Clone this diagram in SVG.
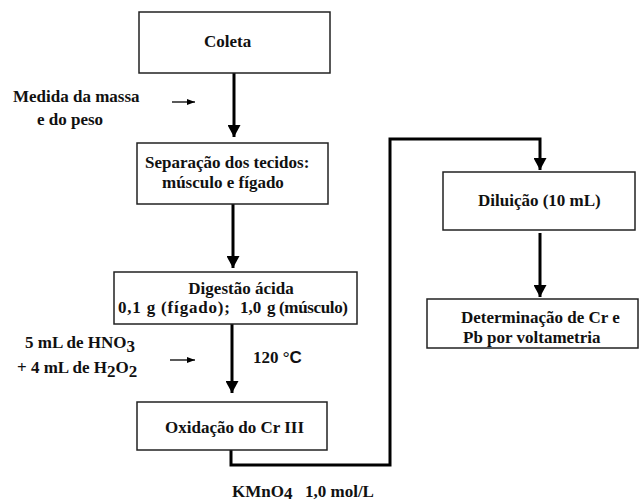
<svg xmlns="http://www.w3.org/2000/svg" width="640" height="502" viewBox="0 0 640 502">
<defs>
<style>
.box{fill:#fff;stroke:#222;stroke-width:1.5}
text{font-family:'Liberation Serif','Times New Roman',Tinos,'DejaVu Serif',serif;font-weight:bold;font-size:17px;fill:#111}
.s{font-family:'Liberation Sans',Arial,sans-serif}
.flow{fill:none;stroke:#000;stroke-width:3}
.thin{fill:none;stroke:#000;stroke-width:1.3}
</style>
<marker id="ah" markerUnits="userSpaceOnUse" viewBox="0 0 12 13" refX="12" refY="6.5" markerWidth="12" markerHeight="13" orient="auto">
<path d="M0,0 L12,6.5 L0,13 Z" fill="#000"/>
</marker>
<marker id="sh" markerUnits="userSpaceOnUse" viewBox="0 0 8 6" refX="8" refY="3" markerWidth="8" markerHeight="6" orient="auto">
<path d="M0,0 L8,3 L0,6 Z" fill="#000"/>
</marker>
</defs>
<rect width="640" height="502" fill="#fff"/>

<g id="connectors">
<line class="flow" x1="234" y1="73" x2="234" y2="137" marker-end="url(#ah)"/>
<line class="flow" x1="233" y1="204" x2="233" y2="268" marker-end="url(#ah)"/>
<line class="flow" x1="232" y1="324" x2="232" y2="393" marker-end="url(#ah)"/>
<polyline class="flow" points="231,450 231,465 390,465 390,139 540,139 540,170" marker-end="url(#ah)"/>
<line class="flow" x1="540" y1="233" x2="540" y2="297" marker-end="url(#ah)"/>
<line class="thin" x1="172" y1="102" x2="195" y2="102" marker-end="url(#sh)"/>
<line class="thin" x1="170" y1="360" x2="195" y2="360" marker-end="url(#sh)"/>
</g>

<g id="coleta">
<rect class="box" x="139" y="12" width="191" height="61"/>
<text x="204" y="47">Coleta</text>
</g>

<g id="medida">
<text x="13" y="102">Medida da massa</text>
<text x="37" y="125">e do peso</text>
</g>

<g id="separacao">
<rect class="box" x="137" y="143" width="191" height="61"/>
<text x="145" y="168">Separação dos tecidos:</text>
<text x="162" y="188">músculo e fígado</text>
</g>

<g id="digestao">
<rect class="box" x="114" y="272" width="243" height="52"/>
<text x="241" y="294" text-anchor="middle">Digestão ácida</text>
<text x="118" y="313"><tspan textLength="112" lengthAdjust="spacing">0,1 g (fígado);</tspan><tspan x="240">1,0</tspan><tspan x="267" textLength="81" lengthAdjust="spacing">g (músculo)</tspan></text>
</g>

<g id="reagentes">
<text x="25" y="348">5 mL de HNO<tspan dy="4">3</tspan></text>
<text x="17" y="373">+ 4 mL de H<tspan dy="4">2</tspan><tspan dy="-4">O</tspan><tspan dy="4">2</tspan></text>
</g>

<g id="temperatura">
<text x="253" y="363">120 °<tspan class="s">C</tspan></text>
</g>

<g id="oxidacao">
<rect class="box" x="137" y="402" width="190" height="48"/>
<text x="165" y="433">Oxidação do Cr III</text>
</g>

<g id="kmno4">
<text x="232" y="497">KMnO<tspan dy="2">4</tspan></text>
<text x="305" y="497">1,0 mol/L</text>
</g>

<g id="diluicao">
<rect class="box" x="443" y="172" width="192" height="58"/>
<text x="478" y="206">Diluição (10 mL)</text>
</g>

<g id="determinacao">
<rect class="box" x="427" y="299" width="211" height="49"/>
<text x="461" y="323">Determinação de Cr e</text>
<text x="463" y="343">Pb por voltametria</text>
</g>
</svg>
